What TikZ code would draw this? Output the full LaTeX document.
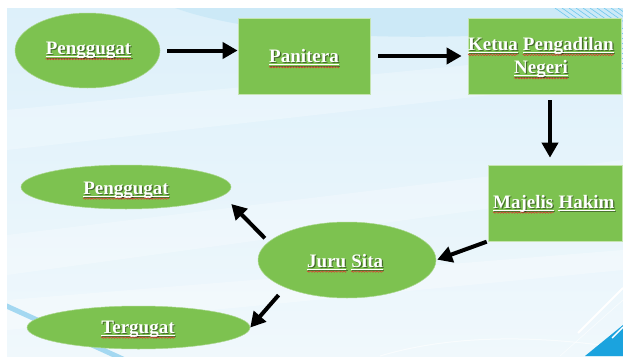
\documentclass[tikz,border=0pt]{standalone}
\usepackage{fontspec}
\setmainfont{Liberation Serif}
\usetikzlibrary{arrows.meta,shapes.geometric,decorations.pathmorphing}

\definecolor{leaf}{RGB}{125,194,80}
\definecolor{skytop}{RGB}{221,240,250}
\definecolor{skybot}{RGB}{240,248,252}
\definecolor{swoosh}{RGB}{200,232,247}
\definecolor{streak}{RGB}{164,216,241}
\definecolor{hatch}{RGB}{110,200,238}
\definecolor{corner}{RGB}{27,163,222}
\definecolor{spellred}{RGB}{225,45,45}

\tikzset{
  stepbox/.style={rectangle, fill=leaf, draw=white!55!leaf, line width=0.7pt, inner sep=0pt},
  oval/.style={ellipse, fill=leaf, draw=white!35!leaf, line width=0.5pt, inner sep=0pt},
  txt/.style={text=white, font=\bfseries\fontsize{19}{22}\selectfont, inner sep=0pt, anchor=base},
  txtshade/.style={txt, text=black, text opacity=0.45},
  uline/.style={white, line width=0.9pt},
  uline shade/.style={black, opacity=0.4, line width=0.9pt},
  spell/.style={spellred, line width=0.45pt, decorate,
    decoration={zigzag, segment length=2.8pt, amplitude=0.7pt}},
  flow/.style={line width=4pt, -{Triangle[length=15pt,width=16pt]}},
  wordgap/.style={xshift=4.75pt},
}

% one word: white bold text with a soft drop shadow and a white underline
\newcommand\inkword[3]{%
  \node[txt, #2] (#1) {\phantom{#3}};
  \node[txtshade] (#1-s) at ([shift={(1.2,1.2)}]#1.base) {#3};
  \draw[uline shade] ([shift={(1.2,3.5)}]#1.base west) -- ([shift={(1.2,3.5)}]#1.base east);
  \node[txt] (#1-t) at (#1.base) {#3};
  \draw[uline] ([shift={(0,2.3)}]#1.base west) -- ([shift={(0,2.3)}]#1.base east);
}
% red wavy mark under a word
\newcommand\spellmark[1]{%
  \draw[spell] ([shift={(0,4.6)}]#1.base west) -- ([shift={(0,4.6)}]#1.base east);
}

\begin{document}
\begin{tikzpicture}[x=1pt, y=-1pt]
\useasboundingbox (0,0) rectangle (623,356);
\fill[white] (0,0) rectangle (623,356);

% slide background
\begin{scope}
  \clip (7,8) rectangle (623,356);
  \fill[top color=skytop, bottom color=skybot] (7,8) rectangle (623,356);
  \fill[swoosh, opacity=0.8] (175,8) .. controls (230,28) and (330,40) .. (470,36)
        -- (623,28) -- (623,8) -- cycle;
  \fill[white, opacity=0.25] (7,110) -- (623,50) -- (623,80) -- (7,150) -- cycle;
  \fill[white, opacity=0.25] (7,235) -- (623,160) -- (623,190) -- (7,275) -- cycle;
  \fill[white, opacity=0.3] (7,300) -- (623,250) -- (623,270) -- (7,330) -- cycle;
  % pale hatching in the upper right corner
  \foreach \k in {0,...,9} {
    \draw[hatch, line width=0.6pt] (555+7*\k,8) -- (575+7*\k,22);
  }
  \foreach \k in {0,...,8} {
    \draw[hatch, line width=0.6pt] (619,26+5*\k) -- (623,29+5*\k);
  }
  % blue stripe in the lower left
  \draw[streak, line width=5pt] (0,303) -- (125,360);
  % faint arc near the bottom
  \draw[white, opacity=0.6, line width=1pt] (380,356) .. controls (450,335) and (530,336) .. (600,345);
  % corner accent
  \fill[corner] (585,356) -- (623,325) -- (623,356) -- cycle;
  \draw[white, line width=1.8pt] (578,333) -- (623,288);
  \draw[white, line width=1.4pt] (612,338) -- (623,327);
  \draw[white, opacity=0.7, line width=0.6pt] (560,356) -- (623,300);
\end{scope}

% flow shapes
\node[oval, minimum width=145pt, minimum height=75pt] (pg1) at (87.5,50.5) {};
\node[stepbox, minimum width=132pt, minimum height=76pt] (pan) at (304,56) {};
\node[stepbox, minimum width=153pt, minimum height=76pt] (ket) at (544.5,56) {};
\node[stepbox, minimum width=134pt, minimum height=76pt] (maj) at (555,203) {};
\node[oval, minimum width=178pt, minimum height=76pt] (js) at (347,260) {};
\node[oval, minimum width=210pt, minimum height=44pt] (pg2) at (126,187) {};
\node[oval, minimum width=223pt, minimum height=43pt] (ter) at (138.5,327.5) {};

% connectors
\coordinate (k3) at ([xshift=5.5pt]ket.south);
\coordinate (c5) at ([yshift=-17pt]pg2.east);
\draw[flow, shorten <=7pt] (pg1.east) -- (pg1.east -| pan.west);
\draw[flow, shorten <=8pt, shorten >=6pt] (pan.east) -- (ket.west);
\draw[flow, shorten <=6pt, shorten >=7pt] (k3) -- (k3 |- maj.north);
\draw[flow, shorten <=1pt, shorten >=1pt] (maj.south west) -- (js.east);
\draw[flow, shorten <=5pt] (js.167) -- (c5);
\draw[flow, shorten <=10pt] (js.204) -- (ter.east);

% labels
\inkword{w-pg1}{at={(88.5,54.5)}}{Penggugat}\spellmark{w-pg1}
\inkword{w-pan}{at={(304,62.6)}}{Panitera}\spellmark{w-pan}
\inkword{w-ketua}{anchor=base west, at={(468,50.3)}}{Ketua}\spellmark{w-ketua}
\inkword{w-pengadilan}{anchor=base west, at={(w-ketua.base east)}, wordgap}{Pengadilan}\spellmark{w-pengadilan}
\inkword{w-negeri}{at={(541,73.6)}}{Negeri}\spellmark{w-negeri}
\inkword{w-majelis}{anchor=base west, at={(493,208)}}{Majelis}\spellmark{w-majelis}
\inkword{w-hakim}{anchor=base west, at={(w-majelis.base east)}, wordgap}{Hakim}
\inkword{w-juru}{anchor=base west, at={(307,267)}}{Juru}\spellmark{w-juru}
\inkword{w-sita}{anchor=base west, at={(w-juru.base east)}, wordgap}{Sita}\spellmark{w-sita}
\inkword{w-pg2}{at={(126,194)}}{Penggugat}\spellmark{w-pg2}
\inkword{w-ter}{at={(138,333)}}{Tergugat}\spellmark{w-ter}
\end{tikzpicture}
\end{document}
